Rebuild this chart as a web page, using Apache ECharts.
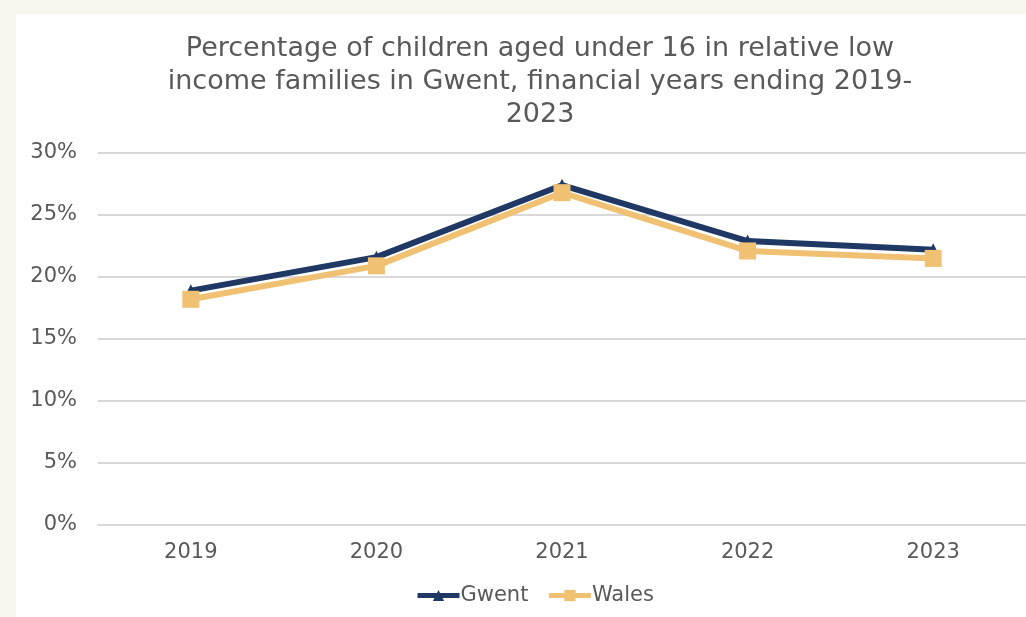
<!DOCTYPE html>
<html><head><meta charset="utf-8">
<script src="https://cdn.jsdelivr.net/npm/echarts@6/dist/echarts.min.js"></script>
<style>
html,body{margin:0;padding:0;background:#f9f6ef;width:1026px;height:617px;overflow:hidden;}
#c{position:absolute;left:16px;top:14px;width:1010px;height:603px;background:#ffffff;}
</style></head>
<body><div id="c"></div>
<script>
const titleText = 'Percentage of children aged under 16 in relative low\nincome families in Gwent, financial years ending 2019-\n2023';
const categories = ['2019','2020','2021','2022','2023'];
const gwent = [18.9, 21.6, 27.4, 22.9, 22.2];
const wales = [18.2, 20.9, 26.8, 22.1, 21.5];
const yTicks = [0, 5, 10, 15, 20, 25, 30];

const chart = echarts.init(document.getElementById('c'));
chart.setOption({
  animation: false,
  textStyle: {fontFamily: 'DejaVu Sans'},
  title: {
    text: titleText, left: 519, top: 13, textAlign: 'center',
    textStyle: {fontFamily: 'DejaVu Sans', fontSize: 27, fontWeight: 'normal', color: '#595959', lineHeight: 33}
  },
  legend: {
    bottom: 6, left: 394, orient: 'horizontal', itemWidth: 42, itemHeight: 14, itemGap: 18,
    textStyle: {fontFamily: 'DejaVu Sans', fontSize: 21, color: '#595959', padding: [0,0,0,-4]},
    lineStyle: {width: 5},
    data: ['Gwent','Wales']
  },
  grid: {left: 82, top: 139, height: 372, width: 935, containLabel: false},
  xAxis: {
    type: 'category', data: categories, boundaryGap: true,
    axisLine: {show: true, lineStyle: {color: '#d9d9d9', width: 2}},
    axisTick: {show: false},
    axisLabel: {fontFamily: 'DejaVu Sans', fontSize: 21, color: '#595959', margin: 17}
  },
  yAxis: {
    type: 'value', min: yTicks[0], max: yTicks[yTicks.length-1], interval: 5,
    axisLine: {show: false}, axisTick: {show: false},
    splitLine: {lineStyle: {color: '#d9d9d9', width: 2}},
    axisLabel: {fontFamily: 'DejaVu Sans', fontSize: 21, color: '#595959', margin: 21, formatter: v => v + '%'}
  },
  series: [
    {name: 'Gwent', type: 'line', data: gwent, symbol: 'triangle', symbolSize: 13,
     lineStyle: {color: '#1f3864', width: 6}, itemStyle: {color: '#1f3864'}, z: 2},
    {name: 'Wales', type: 'line', data: wales, symbol: 'rect', symbolSize: 17,
     lineStyle: {color: '#f0c172', width: 6}, itemStyle: {color: '#f0c172'}, z: 3}
  ]
});
</script></body></html>
